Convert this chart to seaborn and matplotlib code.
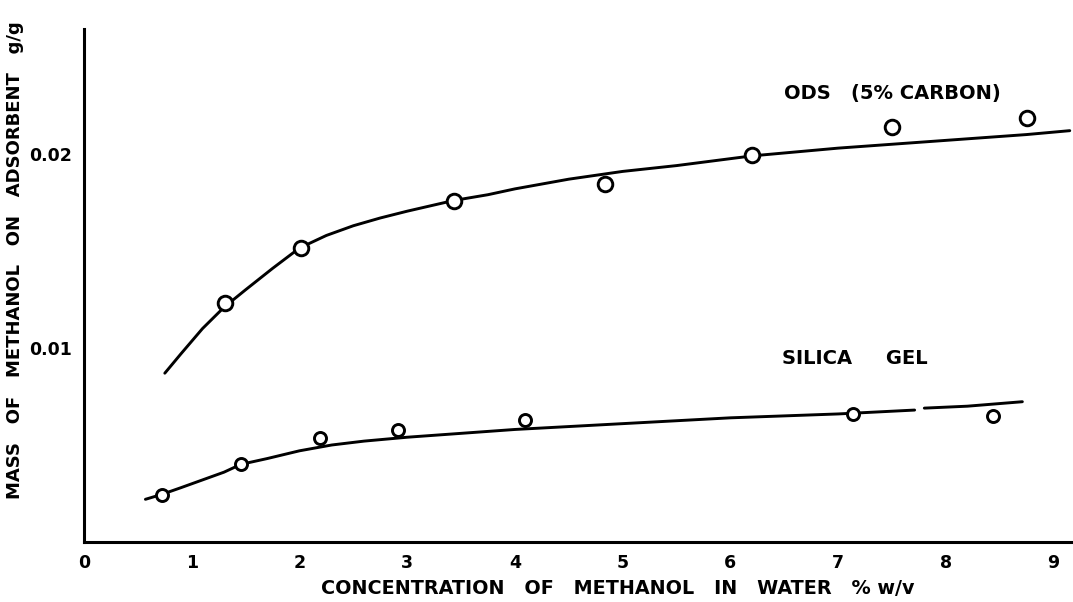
import numpy as np
import pandas as pd
import matplotlib
matplotlib.use("Agg")
import matplotlib.pyplot as plt
import seaborn as sns

# ---- data ----
ods_x = [1.31, 2.01, 3.43, 4.84, 6.20, 7.50, 8.75]
ods_y = [0.0123, 0.01515, 0.01758, 0.01845, 0.01995, 0.0214, 0.02186]

silica_x = [0.72, 1.455, 2.19, 2.91, 4.09, 7.14, 8.44]
silica_y = [0.00242, 0.00402, 0.00536, 0.00577, 0.00629, 0.0066, 0.0065]

ods_curve_x = [0.75, 0.9, 1.1, 1.3, 1.5, 1.75, 2.0, 2.25, 2.5, 2.75, 3.0, 3.43, 3.75, 4.0,
               4.5, 5.0, 5.5, 6.2, 7.0, 7.5, 8.0, 8.75, 9.15]
ods_curve_y = [0.0087, 0.0097, 0.0110, 0.0121, 0.0130, 0.0141, 0.01515, 0.0158, 0.0163,
               0.0167, 0.01705, 0.0176, 0.0179, 0.0182, 0.0187, 0.0191, 0.0194, 0.0199,
               0.0203, 0.0205, 0.0207, 0.0210, 0.0212]

silica_curve1_x = [0.57, 0.72, 0.9, 1.1, 1.3, 1.455, 1.7, 2.0, 2.3, 2.6, 3.0, 3.5, 4.0,
                   5.0, 6.0, 7.0, 7.71]
silica_curve1_y = [0.0022, 0.00245, 0.0028, 0.0032, 0.0036, 0.0040, 0.0043, 0.0047, 0.0050,
                   0.0052, 0.0054, 0.0056, 0.0058, 0.0061, 0.0064, 0.0066, 0.0068]
silica_curve2_x = [7.80, 8.2, 8.71]
silica_curve2_y = [0.0069, 0.0070, 0.00723]

x_ticks = [0, 1, 2, 3, 4, 5, 6, 7, 8, 9]
y_ticks = [0.01, 0.02]
y_tick_labels = ["0.01", "0.02"]

sns.set_theme(style="white")
plt.rcParams["font.family"] = ["DejaVu Sans"]
plt.rcParams["font.weight"] = "bold"

fig = plt.figure(figsize=(10.73, 6.02), dpi=100)
ax = fig.add_axes([84 / 1073, 60 / 602, (1073 - 84) / 1073, (542 - 29) / 602])

lw = 2.1
sns.lineplot(x=ods_curve_x, y=ods_curve_y, sort=False, color="black", linewidth=lw, ax=ax)
sns.lineplot(x=silica_curve1_x, y=silica_curve1_y, sort=False, color="black", linewidth=lw, ax=ax)
sns.lineplot(x=silica_curve2_x, y=silica_curve2_y, sort=False, color="black", linewidth=lw, ax=ax)

sns.scatterplot(x=ods_x, y=ods_y, marker="o", s=110, facecolor="white", edgecolor="black",
                linewidth=2.1, ax=ax, zorder=3)
sns.scatterplot(x=silica_x, y=silica_y, marker="o", s=75, facecolor="white", edgecolor="black",
                linewidth=2.1, ax=ax, zorder=3)

ax.set_xlim(0, 9.18)
ax.set_ylim(0, 0.02644)
ax.set_xticks(x_ticks)
ax.set_xticklabels([str(t) for t in x_ticks])
ax.set_yticks(y_ticks)
ax.set_yticklabels(y_tick_labels)

for s in ["top", "right"]:
    ax.spines[s].set_visible(False)
for s in ["left", "bottom"]:
    ax.spines[s].set_linewidth(2.2)
    ax.spines[s].set_color("black")

ax.tick_params(axis="both", direction="out", length=7, width=2, colors="black",
               labelsize=12.5, pad=2)
for lab in ax.get_xticklabels() + ax.get_yticklabels():
    lab.set_fontweight("bold")

ax.set_xlabel("CONCENTRATION   OF   METHANOL   IN   WATER   % w/v", fontsize=13.8,
              fontweight="bold", color="black")
ax.xaxis.set_label_coords(0.54, -0.072)
ax.set_ylabel("MASS   OF   METHANOL   ON   ADSORBENT   g/g", fontsize=13,
              fontweight="bold", color="black")
ax.yaxis.set_label_coords(-0.0607, 0.55)

ax.text(6.5, 0.02314, "ODS   (5% CARBON)", fontsize=14, fontweight="bold",
        ha="left", va="center", color="black")
ax.text(6.48, 0.00948, "SILICA     GEL", fontsize=14, fontweight="bold",
        ha="left", va="center", color="black")

fig.savefig("out.png", dpi=100)
